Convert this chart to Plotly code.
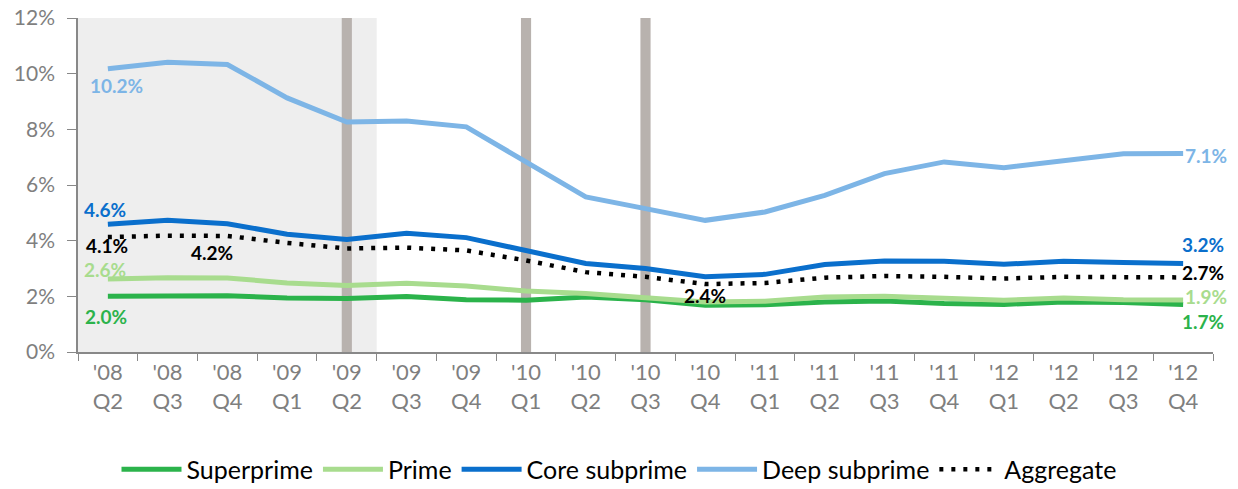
import plotly.graph_objects as go

quarters = ["'08<br>Q2", "'08<br>Q3", "'08<br>Q4", "'09<br>Q1", "'09<br>Q2", "'09<br>Q3", "'09<br>Q4",
            "'10<br>Q1", "'10<br>Q2", "'10<br>Q3", "'10<br>Q4", "'11<br>Q1", "'11<br>Q2", "'11<br>Q3",
            "'11<br>Q4", "'12<br>Q1", "'12<br>Q2", "'12<br>Q3", "'12<br>Q4"]

superprime = [2.00, 2.02, 2.02, 1.94, 1.92, 1.99, 1.88, 1.86, 1.98, 1.88, 1.68, 1.70, 1.80, 1.83, 1.74, 1.71, 1.80, 1.78, 1.71]
prime = [2.62, 2.67, 2.66, 2.48, 2.39, 2.47, 2.37, 2.19, 2.10, 1.95, 1.80, 1.82, 1.98, 2.00, 1.92, 1.86, 1.94, 1.88, 1.87]
core_subprime = [4.59, 4.73, 4.61, 4.23, 4.04, 4.27, 4.11, 3.63, 3.18, 3.00, 2.70, 2.79, 3.14, 3.27, 3.26, 3.15, 3.26, 3.22, 3.18]
deep_subprime = [10.18, 10.41, 10.33, 9.13, 8.26, 8.30, 8.09, 6.83, 5.57, 5.15, 4.73, 5.03, 5.63, 6.41, 6.83, 6.62, 6.86, 7.12, 7.13]
aggregate = [4.13, 4.18, 4.17, 3.92, 3.72, 3.75, 3.65, 3.29, 2.87, 2.70, 2.44, 2.48, 2.67, 2.73, 2.70, 2.64, 2.70, 2.70, 2.68]

y_ticks = [0, 2, 4, 6, 8, 10, 12]
y_tick_labels = [f"{v}%" for v in y_ticks]
recession_marks = [4, 7, 9]      # category index of the vertical grey markers
shaded_span = [-0.5, 4.5]

FONT = "Lato"
C_SUPER = "#2bb34b"
C_PRIME = "#a8dc8e"
C_CORE = "#0a6fcc"
C_DEEP = "#7db5e6"
C_AGG = "#000000"

fig = go.Figure()
series = [
    ("Superprime", superprime, dict(color=C_SUPER, width=5)),
    ("Prime", prime, dict(color=C_PRIME, width=5)),
    ("Core subprime", core_subprime, dict(color=C_CORE, width=5)),
    ("Deep subprime", deep_subprime, dict(color=C_DEEP, width=5)),
    ("Aggregate", aggregate, dict(color=C_AGG, width=4.5, dash="4px,8px")),
]
for name, vals, line in series:
    fig.add_trace(go.Scatter(x=quarters, y=vals, name=name, mode="lines", line=line,
                             hoverinfo="skip"))

shapes = [dict(type="rect", xref="x", yref="y", x0=shaded_span[0], x1=shaded_span[1], y0=0, y1=12,
               fillcolor="#eeeeee", line=dict(width=0), layer="below")]
for m in recession_marks:
    shapes.append(dict(type="rect", xref="x", yref="y", x0=m - 0.085, x1=m + 0.085, y0=0, y1=12,
                       fillcolor="#b8b2ae", line=dict(width=0), layer="below"))

def lab(x, y, val, color, anchor="center"):
    return dict(x=x, y=y, xref="x", yref="y", text=f"{val:.1f}%", showarrow=False,
                xanchor=anchor, yanchor="middle",
                font=dict(family=FONT, size=19, color=color, weight="bold"))

last = len(quarters) - 1
imax = aggregate.index(max(aggregate[:4]))
imin = aggregate.index(min(aggregate))
annotations = [
    lab(0.15, 9.56, deep_subprime[0], C_DEEP),
    lab(-0.05, 5.13, core_subprime[0], C_CORE),
    lab(-0.02, 3.81, aggregate[0], C_AGG),
    lab(imax + 0.74, 3.59, aggregate[imax], C_AGG),
    lab(-0.04, 2.97, prime[0], C_PRIME),
    lab(-0.03, 1.28, superprime[0], C_SUPER),
    lab(imin, 2.04, aggregate[imin], C_AGG),
    lab(last + 0.0, 7.07, deep_subprime[-1], C_DEEP, "left"),
    lab(last - 0.05, 3.86, core_subprime[-1], C_CORE, "left"),
    lab(last - 0.05, 2.84, aggregate[-1], C_AGG, "left"),
    lab(last + 0.0, 1.98, prime[-1], C_PRIME, "left"),
    lab(last - 0.05, 1.08, superprime[-1], C_SUPER, "left"),
]

fig.update_layout(
    width=1238, height=489,
    margin=dict(l=78, r=25, t=18, b=137, autoexpand=False),
    paper_bgcolor="white", plot_bgcolor="white",
    shapes=shapes, annotations=annotations,
    showlegend=True,
    legend=dict(orientation="h", xref="container", yref="container", x=0.5, xanchor="center",
                y=0.04, yanchor="middle", font=dict(family=FONT, size=25, color="#000000"),
                itemwidth=60, tracegroupgap=0),
    xaxis=dict(type="category", tickson="boundaries", ticks="outside", ticklen=7,
               tickcolor="#888888", showline=True, linecolor="#888888", linewidth=1.5,
               showgrid=False, range=[-0.5, last + 0.5], automargin=False,
               tickfont=dict(family=FONT, size=22, color="#7f7f7f")),
    yaxis=dict(range=[0, 12], tickvals=y_ticks, ticktext=y_tick_labels, ticks="outside", ticklen=9,
               tickcolor="#888888", showline=True, linecolor="#888888", linewidth=1.5,
               showgrid=False, zeroline=False, automargin=False, ticklabelstandoff=8,
               ticklabeloverflow="allow",
               tickfont=dict(family=FONT, size=21, color="#7f7f7f")),
)

fig.write_html("out.html", config={"displayModeBar": False},
               post_script="document.body.style.margin='0';")
